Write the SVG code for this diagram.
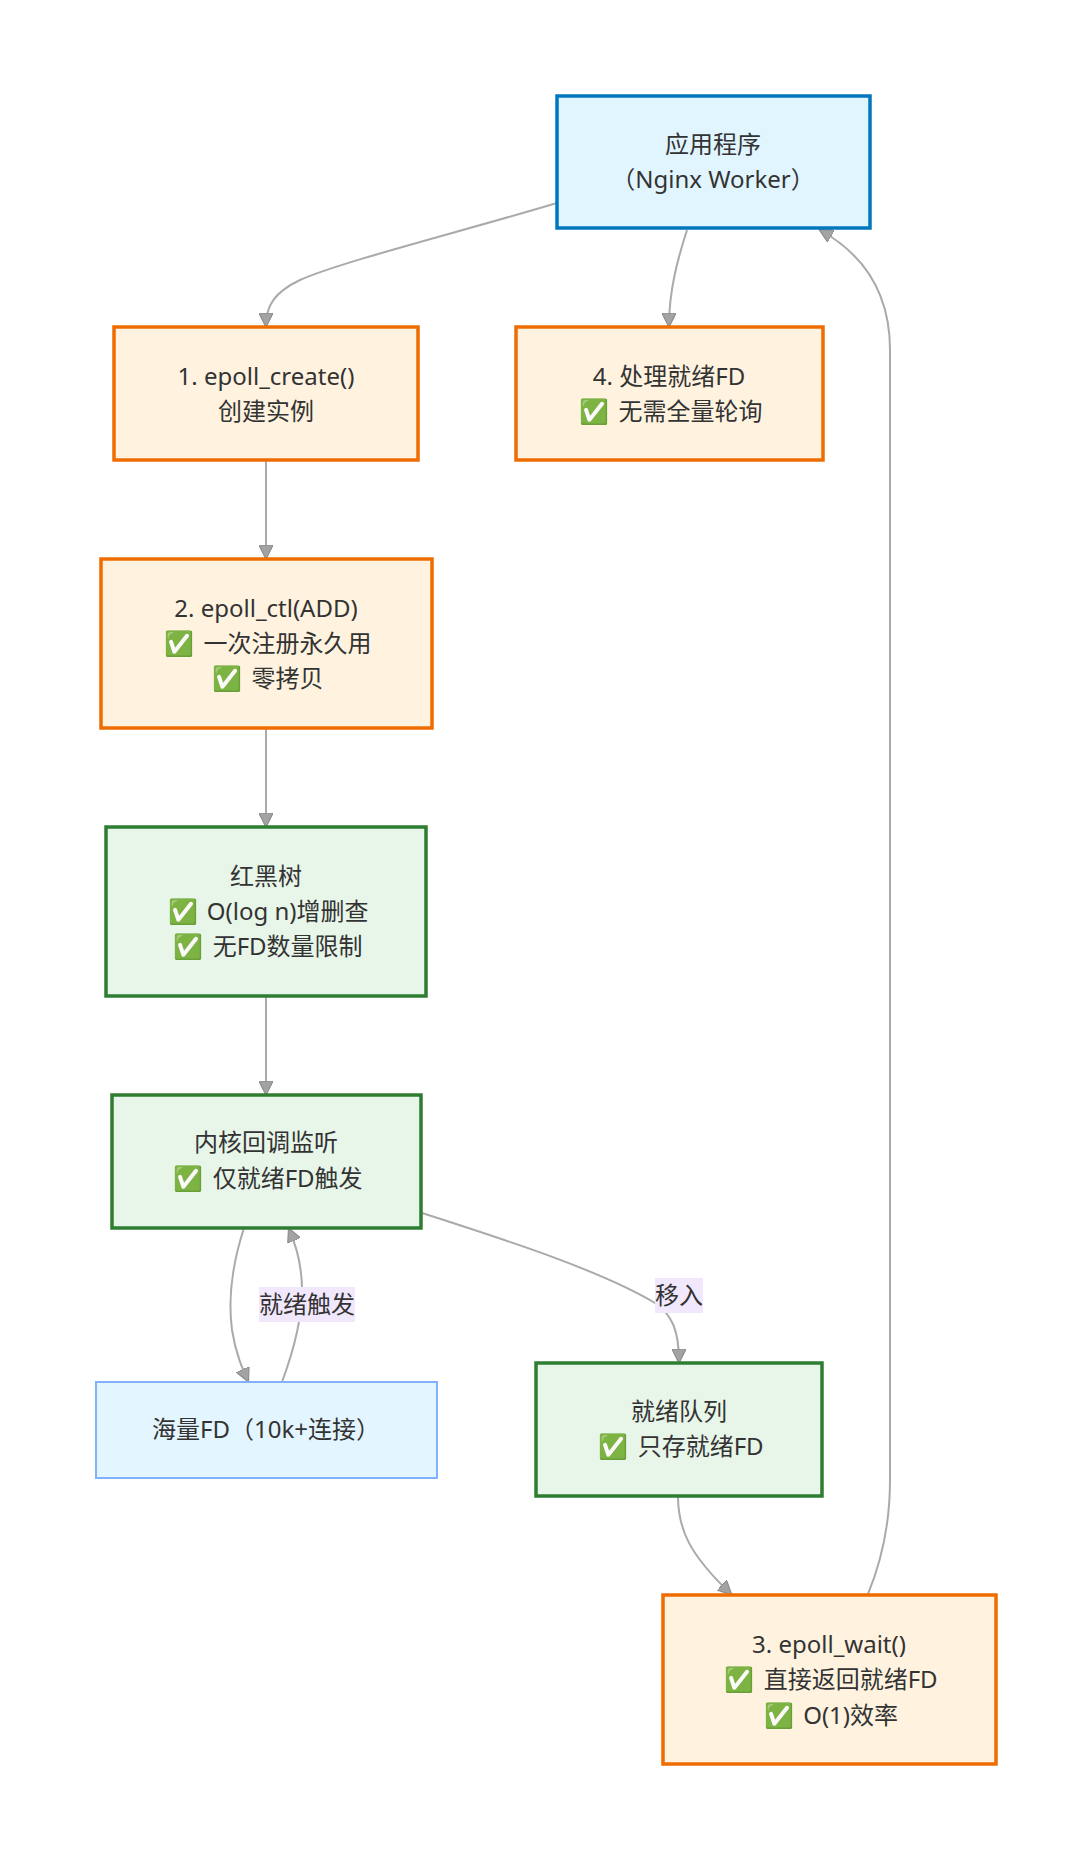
<svg xmlns="http://www.w3.org/2000/svg" width="1091" height="1860" viewBox="0 0 1091 1860">
<style>
text{font-family:"Noto Sans","Noto Sans CJK SC",sans-serif;font-size:24px;fill:#333;text-anchor:middle}
.orange{fill:#fff3e0;stroke:#ef6c00;stroke-width:3.5}
.green{fill:#e8f5e9;stroke:#2e7d32;stroke-width:3.5}
.app{fill:#e1f5fe;stroke:#0277bd;stroke-width:3.5}
.sea{fill:#e3f5fe;stroke:#82b1ff;stroke-width:2}
.edge{fill:none;stroke:#aaaaaa;stroke-width:2}
.lbl{fill:#f2e8fd}
</style>
<defs>
<marker id="arr" viewBox="0 0 12 12" refX="11" refY="6" markerWidth="14" markerHeight="14" markerUnits="userSpaceOnUse" orient="auto">
<path d="M0,0 L12,6 L0,12 z" fill="#a3a3a3" stroke="#8c8c8c" stroke-width="1"/>
</marker>
</defs>
<rect width="1091" height="1860" fill="#ffffff"/>
<g id="connectors">
<path class="edge" marker-end="url(#arr)" d="M557,203 C460,232 340,262 300,280 C275,292 266,305 266,326"/>
<path class="edge" marker-end="url(#arr)" d="M687,230 C678,258 669,290 669,326"/>
<path class="edge" marker-end="url(#arr)" d="M868,1594 C882,1560 890,1520 890,1480 L890,350 C890,300 870,258 820,230"/>
<path class="edge" marker-end="url(#arr)" d="M266,460 L266,558"/>
<path class="edge" marker-end="url(#arr)" d="M266,728 L266,826"/>
<path class="edge" marker-end="url(#arr)" d="M266,996 L266,1094"/>
<path class="edge" marker-end="url(#arr)" d="M244,1228 C232,1265 228,1300 232,1330 C236,1355 243,1370 248,1381"/>
<path class="edge" marker-end="url(#arr)" d="M282,1382 C292,1355 302,1320 302,1290 C302,1265 296,1245 289,1229"/>
<path class="edge" marker-end="url(#arr)" d="M422,1213 C500,1238 600,1270 655,1303 C672,1315 679,1330 679,1362"/>
<path class="edge" marker-end="url(#arr)" d="M678,1496 C678,1530 690,1555 731,1594"/>
<rect class="lbl" x="259" y="1287" width="96" height="35"/>
<text x="307" y="1313">就绪触发</text>
<rect class="lbl" x="655" y="1278" width="48" height="35"/>
<text x="679" y="1304">移入</text>
</g>
<g id="app">
<rect class="app" x="557" y="96" width="313" height="132"/>
<text x="713" y="153">应用程序</text>
<text x="713" y="188">（Nginx Worker）</text>
</g>
<g id="step1">
<rect class="orange" x="114" y="327" width="304" height="133"/>
<text x="266" y="385">1. epoll_create()</text>
<text x="266" y="420">创建实例</text>
</g>
<g id="step4">
<rect class="orange" x="516" y="327" width="307" height="133"/>
<text x="669" y="385">4. 处理就绪FD</text>
<text x="671" y="420">✅<tspan dx="3"> 无需全量轮询</tspan></text>
</g>
<g id="step2">
<rect class="orange" x="101" y="559" width="331" height="169"/>
<text x="266" y="617">2. epoll_ctl(ADD)</text>
<text x="268" y="652">✅<tspan dx="3"> 一次注册永久用</tspan></text>
<text x="268" y="687">✅<tspan dx="3"> 零拷贝</tspan></text>
</g>
<g id="rbtree">
<rect class="green" x="106" y="827" width="320" height="169"/>
<text x="266" y="885">红黑树</text>
<text x="268" y="920">✅<tspan dx="3"> O(log n)增删查</tspan></text>
<text x="268" y="955">✅<tspan dx="3"> 无FD数量限制</tspan></text>
</g>
<g id="kernel">
<rect class="green" x="112" y="1095" width="309" height="133"/>
<text x="266" y="1151">内核回调监听</text>
<text x="268" y="1187">✅<tspan dx="3"> 仅就绪FD触发</tspan></text>
</g>
<g id="massfd">
<rect class="sea" x="96" y="1382" width="341" height="96"/>
<text x="266" y="1438">海量FD（10k+连接）</text>
</g>
<g id="readyq">
<rect class="green" x="536" y="1363" width="286" height="133"/>
<text x="679" y="1420">就绪队列</text>
<text x="681" y="1455">✅<tspan dx="3"> 只存就绪FD</tspan></text>
</g>
<g id="step3">
<rect class="orange" x="663" y="1595" width="333" height="169"/>
<text x="829" y="1653">3. epoll_wait()</text>
<text x="831" y="1688">✅<tspan dx="3"> 直接返回就绪FD</tspan></text>
<text x="831" y="1724">✅<tspan dx="3"> O(1)效率</tspan></text>
</g>
</svg>
